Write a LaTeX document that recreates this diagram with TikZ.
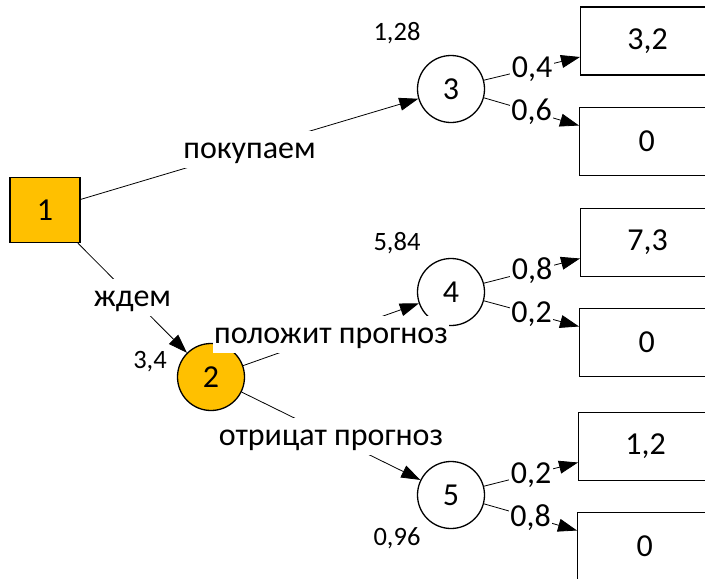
\documentclass[tikz,border=0pt]{standalone}
\usepackage{fontspec}
\setmainfont{Carlito}
\usetikzlibrary{arrows.meta}
\definecolor{gold}{RGB}{255,192,0}
\begin{document}
\begin{tikzpicture}[x=1pt,y=-1pt,
  big/.style={font=\fontsize{32}{38}\selectfont},
  small/.style={font=\fontsize{26.5}{31}\selectfont},
  chance/.style={circle,draw,line width=1.3pt,minimum size=67pt,inner sep=0pt,big},
  decision/.style={rectangle,draw,line width=1.3pt,fill=gold,minimum width=70pt,minimum height=65pt,big},
  outcome/.style={rectangle,draw,line width=1.3pt,minimum width=134pt,minimum height=68pt,anchor=west,big},
  link/.style={line width=0.8pt,-{Triangle[length=19pt,width=13pt]}},
  lbl/.style={fill=white,inner sep=1.5pt,text height=26pt,text depth=8pt,big},
]
\useasboundingbox (0,0) rectangle (705,579);
\clip (0,0) rectangle (705,579);

% decision and chance nodes
\node[decision] (n1) at (45,210) {1};
\node[chance,fill=gold] (n2) at (211,377) {2};
\node[chance] (n3) at (451,89) {3};
\node[chance] (n4) at (451,292) {4};
\node[chance] (n5) at (451,495) {5};

% outcome boxes
\node[outcome] (b1) at (580,41) {3,2};
\node[outcome] (b2) at (579,141.5) {0};
\node[outcome] (b3) at (580,242.5) {7,3};
\node[outcome] (b4) at (579,342.5) {0};
\node[outcome] (b5) at (578,446.5) {1,2};
\node[outcome] (b6) at (577,546.5) {0};

% expected values
\node[small] (v3) at (397,33) {1,28};
\node[small] (v4) at (397,243) {5,84};
\node[small] (v5) at (397,538) {0,96};
\node[small] (v2) at (150,362) {3,4};

% branches
\draw[link] (n1) -- node[lbl]{покупаем} (n3);
\draw[link] (n1) -- node[lbl]{ждем} (n2);
\draw[link] (n2) -- node[lbl]{положит прогноз} (n4);
\draw[link] (n2) -- node[lbl]{отрицат прогноз} (n5);

\draw[link] (n3.15) -- node[lbl]{0,4} ([yshift=-16pt]b1.west);
\draw[link] (n3.-15) -- node[lbl]{0,6} ([yshift=16pt]b2.west);
\draw[link] (n4.15) -- node[lbl]{0,8} ([yshift=-16pt]b3.west);
\draw[link] (n4.-15) -- node[lbl]{0,2} ([yshift=16pt]b4.west);
\draw[link] (n5.15) -- node[lbl]{0,2} ([yshift=-16pt]b5.west);
\draw[link] (n5.-15) -- node[lbl]{0,8} ([yshift=16pt]b6.west);
\end{tikzpicture}
\end{document}
